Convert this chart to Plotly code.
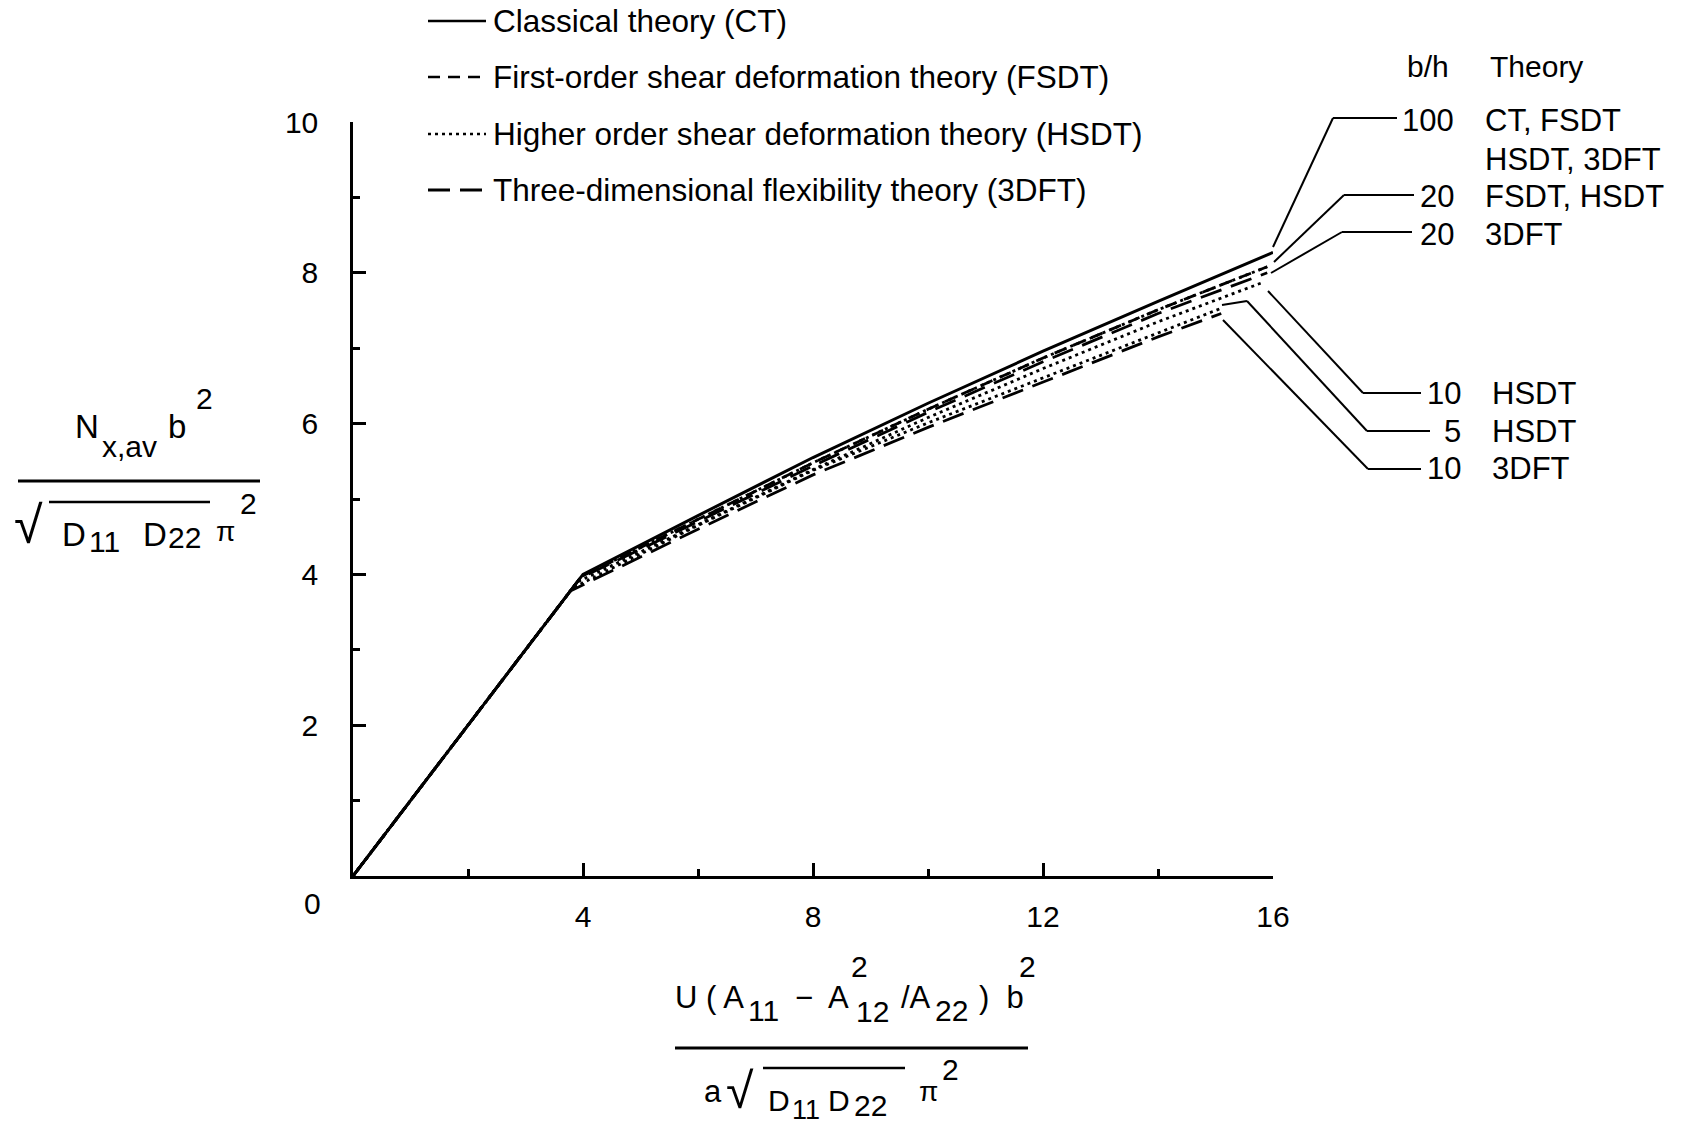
import plotly.graph_objects as go

# ---------------- data ----------------
x_ct = [0, 4.0, 6, 8, 10, 12, 14, 16]
y_ct = [0, 4.0, 4.78, 5.55, 6.27, 6.96, 7.62, 8.27]

x_20_fh = [0, 3.97, 6, 8, 10, 12, 14, 15.9]
y_20_fh = [0, 3.97, 4.73, 5.48, 6.19, 6.87, 7.51, 8.08]

x_20_3d = [0, 3.95, 6, 8, 10, 12, 14, 15.9]
y_20_3d = [0, 3.95, 4.70, 5.44, 6.15, 6.82, 7.46, 8.00]

x_10_h = [0, 3.9, 6, 8, 10, 12, 14, 15.85]
y_10_h = [0, 3.9, 4.66, 5.39, 6.08, 6.73, 7.35, 7.88]

x_5_h = [0, 3.82, 6, 8, 10, 12, 14, 15.1]
y_5_h = [0, 3.82, 4.65, 5.38, 6.01, 6.61, 7.21, 7.53]

x_10_3d = [0, 3.78, 6, 8, 10, 12, 14, 15.1]
y_10_3d = [0, 3.78, 4.60, 5.32, 5.95, 6.55, 7.15, 7.46]

x_tick_vals = [4, 8, 12, 16]
x_minor_vals = [2, 6, 10, 14]
y_tick_vals = [2, 4, 6, 8, 10]
y_minor_vals = [1, 3, 5, 7, 9]

legend_labels = ["Classical theory (CT)",
                 "First-order shear deformation theory (FSDT)",
                 "Higher order shear deformation theory (HSDT)",
                 "Three-dimensional flexibility theory (3DFT)"]

# ---------------- styling ----------------
W, H = 1686, 1125
ML, MR, MT, MB = 353, 413, 122, 249
PW, PH = W - ML - MR, H - MT - MB
FONT = "Liberation Sans, Arial, Helvetica, sans-serif"
BLACK = "#000000"

DASH = {"CT": "solid", "FSDT": "12px,8px", "HSDT": "3px,4px", "3DFT": "22px,10px"}


def P(px, py):
    """pixel -> paper coordinates"""
    return (px - ML) / PW, (MT + PH - py) / PH


fig = go.Figure()


def add_line(x, y, theory, width=2.8):
    fig.add_trace(go.Scatter(x=x, y=y, mode="lines",
                             line=dict(color=BLACK, width=width, dash=DASH[theory]),
                             showlegend=False, hoverinfo="skip"))


add_line(x_10_3d, y_10_3d, "3DFT")
add_line(x_5_h, y_5_h, "HSDT")
add_line(x_10_h, y_10_h, "HSDT")
add_line(x_20_3d, y_20_3d, "3DFT")
add_line(x_20_fh, y_20_fh, "FSDT")
add_line(x_20_fh, y_20_fh, "HSDT")
add_line(x_ct, y_ct, "CT", width=3)

shapes = []
annotations = []


def text(s, px, py, size=31, xanchor="left", yanchor="middle"):
    x, y = P(px, py)
    annotations.append(dict(text=s, x=x, y=y, xref="paper", yref="paper",
                            xanchor=xanchor, yanchor=yanchor, showarrow=False,
                            font=dict(family=FONT, size=size, color=BLACK)))


def seg(x0, y0, x1, y1, width=2, dash="solid"):
    a = P(x0, y0)
    b = P(x1, y1)
    shapes.append(dict(type="line", xref="paper", yref="paper",
                       x0=a[0], y0=a[1], x1=b[0], y1=b[1],
                       line=dict(color=BLACK, width=width, dash=dash)))


def poly(pts, width=2):
    for (a, b) in zip(pts[:-1], pts[1:]):
        seg(a[0], a[1], b[0], b[1], width)


# legend (top)
legend_rows = [21, 77, 134, 190]
for lab, th, ry in zip(legend_labels, ["CT", "FSDT", "HSDT", "3DFT"], legend_rows):
    seg(428, ry, 486, ry, width=2.5 if th != "3DFT" else 3, dash=DASH[th])
    text(lab, 491, ry, size=31.5)

# right-hand labels
text("b/h", 1428, 66, size=30, xanchor="center")
text("Theory", 1488, 66, size=30)
text("100", 1456, 121, xanchor="right")
text("CT, FSDT", 1483, 121)
text("HSDT, 3DFT", 1483, 159)
text("20", 1456, 197, xanchor="right")
text("FSDT, HSDT", 1483, 197)
text("20", 1456, 234, xanchor="right")
text("3DFT", 1483, 234)
text("10", 1463, 393, xanchor="right")
text("HSDT", 1490, 393)
text("5", 1463, 431, xanchor="right")
text("HSDT", 1490, 431)
text("10", 1463, 469, xanchor="right")
text("3DFT", 1490, 469)

# leader lines
poly([(1273, 247), (1333, 118), (1397, 118)])
poly([(1274, 262), (1344, 195), (1414, 195)])
poly([(1271, 273), (1342, 232), (1412, 232)])
poly([(1268, 291), (1363, 393), (1421, 393)])
poly([(1222, 305), (1247, 301), (1367, 431), (1430, 431)])
poly([(1223, 320), (1368, 469), (1421, 469)])

# shared origin label
text("0", 312, 903, size=30, xanchor="center")

# y-axis title (fraction)
text("N", 73, 426, size=33)
text("x,av", 100, 446, size=30)
text("b", 166, 426, size=33)
text("2", 194, 398, size=30)
seg(18, 481, 260, 481, width=3)
text("√", 12, 525, size=52)
seg(49, 502, 210, 502, width=2.5)
text("D", 60, 534, size=33)
text("11", 87, 541, size=30)
text("D", 141, 534, size=33)
text("22", 166, 537, size=30)
text("π", 214, 531, size=28)
text("2", 238, 503, size=30)

# x-axis title (fraction)
text("U ( A", 673, 997, size=31)
text("11", 746, 1010, size=30)
text("−", 793, 997, size=31)
text("A", 826, 997, size=31)
text("2", 849, 966, size=30)
text("12", 854, 1011, size=30)
text("/A", 899, 997, size=31)
text("22", 933, 1010, size=30)
text(")  b", 977, 997, size=31)
text("2", 1017, 966, size=30)
seg(675, 1048, 1028, 1048, width=3)
text("a", 702, 1091, size=31)
text("√", 724, 1091, size=50)
seg(763, 1068, 905, 1068, width=2.5)
text("D", 766, 1100, size=30)
text("11", 790, 1110, size=27)
text("D", 826, 1100, size=30)
text("22", 852, 1105, size=30)
text("π", 917, 1091, size=28)
text("2", 940, 1069, size=30)

fig.update_layout(
    width=W, height=H, autosize=False,
    margin=dict(l=ML, r=MR, t=MT, b=MB, pad=0),
    paper_bgcolor="white", plot_bgcolor="white",
    showlegend=False,
    shapes=shapes, annotations=annotations,
    font=dict(family=FONT, color=BLACK),
)

fig.update_xaxes(range=[0, 16], showgrid=False, zeroline=False,
                 showline=True, linecolor=BLACK, linewidth=2.5,
                 tickmode="array", tickvals=x_tick_vals,
                 ticktext=[str(v) for v in x_tick_vals],
                 ticks="inside", ticklen=13, tickwidth=2.5, tickcolor=BLACK,
                 ticklabelstandoff=12,
                 tickfont=dict(family=FONT, size=30, color=BLACK),
                 minor=dict(tickvals=x_minor_vals, ticks="inside", ticklen=7,
                            tickwidth=2.5, tickcolor=BLACK, showgrid=False))
fig.update_yaxes(range=[0, 10], showgrid=False, zeroline=False,
                 showline=True, linecolor=BLACK, linewidth=2.5,
                 tickmode="array", tickvals=y_tick_vals,
                 ticktext=[str(v) for v in y_tick_vals],
                 ticks="inside", ticklen=13, tickwidth=2.5, tickcolor=BLACK,
                 ticklabelstandoff=26,
                 tickfont=dict(family=FONT, size=30, color=BLACK),
                 minor=dict(tickvals=y_minor_vals, ticks="inside", ticklen=7,
                            tickwidth=2.5, tickcolor=BLACK, showgrid=False))

fig.write_html("out.html", config={"displayModeBar": False},
               post_script="document.body.style.margin='0px';")
